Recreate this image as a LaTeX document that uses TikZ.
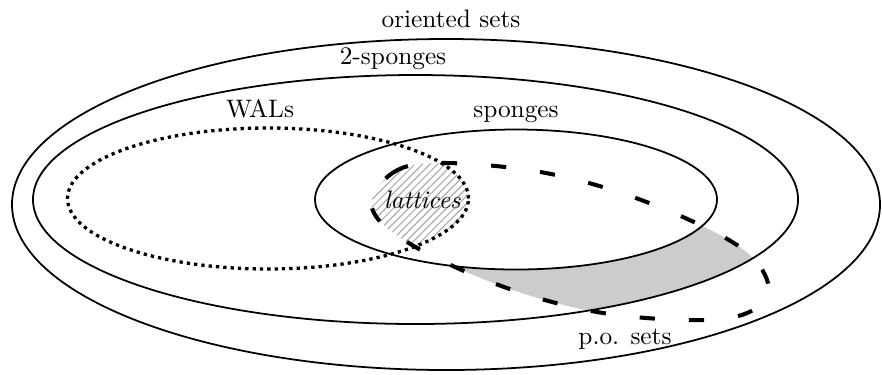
\documentclass[tikz,border=0pt]{standalone}
\usepackage{tikz}
\usetikzlibrary{patterns}

% the p.o. sets region
\def\posetpath{plot[smooth cycle, tension=0.6] coordinates {(3.72,-2.08) (3.94,-1.72) (4.45,-1.63) (5.46,-1.73) (6.44,-2.01) (7.37,-2.45) (7.68,-2.83) (7.55,-3.09) (7.06,-3.20) (6.03,-3.13) (5.04,-2.87) (4.12,-2.45)}}

\begin{document}
\begin{tikzpicture}[x=1.389cm, y=1.389cm,
    setline/.style = {line width=0.7pt},
    walsline/.style = {line width=1.3pt, dash pattern=on 1.3pt off 1.6pt},
    posline/.style = {line width=1.6pt, dash pattern=on 6pt off 13.5pt}]
    \useasboundingbox (0,0) rectangle (8.82,-3.74);

    % 2-sponges that are p.o. sets but not sponges
    \begin{scope}
        \clip \posetpath;
        \fill[gray!40, even odd rule] (4.155,-1.995) ellipse [x radius=3.825, y radius=1.245]
            (5.16,-1.995) ellipse [x radius=2.01, y radius=0.70];
    \end{scope}
    % lattices
    \begin{scope}
        \clip \posetpath;
        \fill[pattern=north east lines, pattern color=gray!70] (2.68,-1.985) ellipse [x radius=2.005, y radius=0.705];
    \end{scope}

    \draw[setline] (4.46,-2.045) ellipse [x radius=4.34, y radius=1.655];
    \draw[setline] (4.155,-1.995) ellipse [x radius=3.825, y radius=1.245];
    \draw[setline] (5.16,-1.995) ellipse [x radius=2.01, y radius=0.70];
    \draw[walsline] (2.68,-1.985) ellipse [x radius=2.005, y radius=0.705];
    \draw[posline] \posetpath;

    \node[anchor=base] (oriented) at (4.51,-0.27) {oriented sets};
    \node[anchor=base] (twosponges) at (3.93,-0.64) {2-sponges};
    \node[anchor=base] (wals) at (2.60,-1.17) {WALs};
    \node[anchor=base] (sponges) at (5.16,-1.17) {sponges};
    \node[anchor=base] (lattices) at (4.225,-2.08) {\textit{lattices}};
    \node[anchor=base] (posets) at (6.25,-3.44) {p.o. sets};
\end{tikzpicture}
\end{document}
